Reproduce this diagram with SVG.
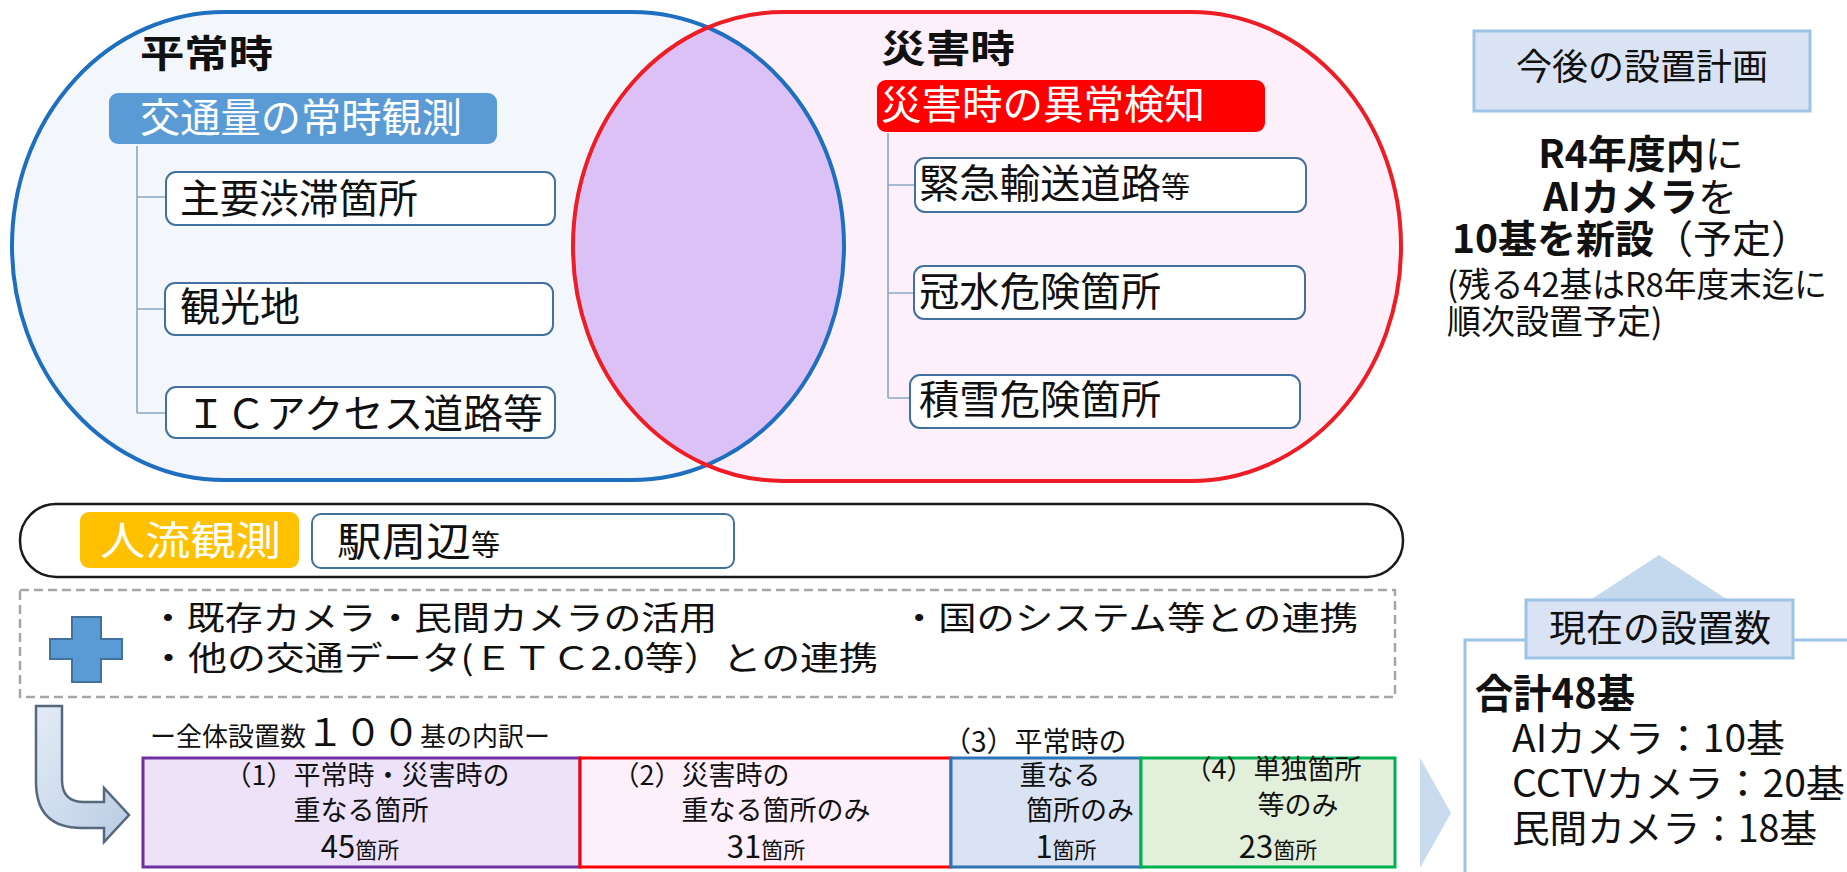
<svg xmlns="http://www.w3.org/2000/svg" width="1847" height="872" viewBox="0 0 1847 872">
<style>
text{font-family:"Noto Sans CJK JP","Noto Sans",sans-serif;fill:#111}
.b{font-weight:700}
.wbox{fill:#fff;stroke:#41719c;stroke-width:2}
.conn{stroke:#8aa6c6;stroke-width:1.6;fill:none}
.t40{font-size:40px}
.w{fill:#fff}
</style>
<defs>
<clipPath id="blueClip"><rect x="12" y="12" width="832" height="468" rx="212" ry="234"/></clipPath>
<linearGradient id="arrowGrad" x1="0" y1="0" x2="1" y2="1">
<stop offset="0" stop-color="#e4ecf6"/><stop offset="1" stop-color="#b9cce4"/>
</linearGradient>
</defs>
<rect width="1847" height="872" fill="#fff"/>

<g id="venn">
<rect x="12" y="12" width="832" height="468" rx="212" ry="234" fill="#f3f6fb"/>
<rect x="573" y="12" width="828" height="469" rx="210" ry="234" fill="#fdf0fb"/>
<rect x="573" y="12" width="828" height="469" rx="210" ry="234" fill="#dcc1f7" clip-path="url(#blueClip)"/>
<rect x="12" y="12" width="832" height="468" rx="212" ry="234" fill="none" stroke="#1f6fc0" stroke-width="4"/>
<rect x="573" y="12" width="828" height="469" rx="210" ry="234" fill="none" stroke="#ee1c24" stroke-width="4"/>
</g>

<g id="connectors">
<path class="conn" d="M137 146 V413 M137 197 H166 M137 309 H165 M137 413 H166"/>
<path class="conn" d="M888 133 V398 M888 185 H915 M888 293 H914 M888 398 H910"/>
</g>

<g id="heiji">
<text class="b" x="140" y="67" font-size="38" textLength="133" lengthAdjust="spacingAndGlyphs">平常時</text>
<rect x="109" y="93" width="388" height="51" rx="9" fill="#5b9bd5"/>
<text class="w" x="140" y="132" font-size="40" textLength="322" lengthAdjust="spacingAndGlyphs">交通量の常時観測</text>
</g>
<g id="h1"><rect class="wbox" x="166" y="172" width="389" height="53" rx="10"/><text class="t40" x="180" y="213" textLength="238" lengthAdjust="spacingAndGlyphs">主要渋滞箇所</text></g>
<g id="h2"><rect class="wbox" x="165" y="283" width="388" height="52" rx="10"/><text class="t40" x="180" y="321" textLength="120" lengthAdjust="spacingAndGlyphs">観光地</text></g>
<g id="h3"><rect class="wbox" x="166" y="387" width="389" height="51" rx="10"/><text class="t40" x="186" y="428" textLength="357" lengthAdjust="spacingAndGlyphs">ＩＣアクセス道路等</text></g>

<g id="saigai">
<text class="b" x="881" y="62" font-size="38" textLength="134" lengthAdjust="spacingAndGlyphs">災害時</text>
<rect x="877" y="80" width="388" height="52" rx="9" fill="#ff0000"/>
<text class="w" x="881" y="119" font-size="40" textLength="324" lengthAdjust="spacingAndGlyphs">災害時の異常検知</text>
</g>
<g id="s1"><rect class="wbox" x="915" y="158" width="391" height="54" rx="10"/><text class="t40" x="919" y="198"><tspan textLength="242" lengthAdjust="spacingAndGlyphs">緊急輸送道路</tspan><tspan font-size="29">等</tspan></text></g>
<g id="s2"><rect class="wbox" x="914" y="266" width="391" height="53" rx="10"/><text class="t40" x="919" y="306" textLength="242" lengthAdjust="spacingAndGlyphs">冠水危険箇所</text></g>
<g id="s3"><rect class="wbox" x="910" y="375" width="390" height="53" rx="10"/><text class="t40" x="919" y="414" textLength="242" lengthAdjust="spacingAndGlyphs">積雪危険箇所</text></g>

<g id="jinryu">
<rect x="20" y="504" width="1383" height="73" rx="36" fill="#fff" stroke="#1a1a1a" stroke-width="2.5"/>
<rect x="80" y="512" width="219" height="56" rx="9" fill="#ffc000"/>
<text class="w" x="100" y="555" font-size="40" textLength="181" lengthAdjust="spacingAndGlyphs">人流観測</text>
<rect class="wbox" x="312" y="514" width="422" height="54" rx="9"/>
<text x="337" y="556" font-size="40"><tspan textLength="134" lengthAdjust="spacingAndGlyphs">駅周辺</tspan><tspan font-size="29">等</tspan></text>
</g>

<g id="plus">
<rect x="20" y="590" width="1375" height="107" fill="#fff" stroke="#a6a6a6" stroke-width="2.5" stroke-dasharray="9 5"/>
<path d="M72 617 H101 V639 H122 V659 H101 V682 H72 V659 H50 V639 H72 Z" fill="#5b9bd5" stroke="#41719c" stroke-width="2"/>
<text x="149" y="630" font-size="33" textLength="568" lengthAdjust="spacingAndGlyphs">・既存カメラ・民間カメラの活用</text>
<text x="900" y="630" font-size="33" textLength="458" lengthAdjust="spacingAndGlyphs">・国のシステム等との連携</text>
<text x="149" y="670" font-size="33" textLength="729" lengthAdjust="spacingAndGlyphs">・他の交通データ(ＥＴＣ2.0等）との連携</text>
</g>

<g id="arrow">
<path d="M36 706 H62 V780 Q62 802 84 802 H104 V788 L129 815 L104 842 V828 H82 Q36 828 36 782 Z" fill="url(#arrowGrad)" stroke="#56687c" stroke-width="2.5"/>
</g>

<g id="breakdown">
<text x="150" y="746" font-size="26">ー全体設置数<tspan font-size="38">１００</tspan>基の内訳ー</text>
<text x="943" y="752" font-size="28">（3）平常時の</text>
<rect x="143" y="758" width="437" height="109" fill="#ede2f8" stroke="#7030a0" stroke-width="3"/>
<rect x="580" y="758" width="371" height="109" fill="#fdf0fb" stroke="#ff0000" stroke-width="3"/>
<rect x="951" y="758" width="190" height="109" fill="#dae3f3" stroke="#2e75b6" stroke-width="3"/>
<rect x="1141" y="758" width="254" height="109" fill="#e2efda" stroke="#00b050" stroke-width="3"/>
<g font-size="27" text-anchor="middle">
<text x="367" y="785">（1）平常時・災害時の</text>
<text x="361" y="820">重なる箇所</text>
<text x="360" y="858"><tspan font-size="31">45</tspan><tspan font-size="22">箇所</tspan></text>
<text x="701" y="785">（2）災害時の</text>
<text x="776" y="820">重なる箇所のみ</text>
<text x="766" y="858"><tspan font-size="31">31</tspan><tspan font-size="22">箇所</tspan></text>
<text x="1060" y="785">重なる</text>
<text x="1080" y="820">箇所のみ</text>
<text x="1066" y="858"><tspan font-size="31">1</tspan><tspan font-size="22">箇所</tspan></text>
<text x="1273" y="779">（4）単独箇所</text>
<text x="1298" y="815">等のみ</text>
<text x="1278" y="858"><tspan font-size="31">23</tspan><tspan font-size="22">箇所</tspan></text>
</g>
</g>

<g id="plan">
<rect x="1474" y="31" width="336" height="80" fill="#dae3f3" stroke="#9dc3e6" stroke-width="3"/>
<text x="1642" y="80" font-size="36" text-anchor="middle">今後の設置計画</text>
<g font-size="39" text-anchor="middle">
<text x="1641" y="168"><tspan class="b">R4年度内</tspan>に</text>
<text x="1640" y="211"><tspan class="b">AIカメラ</tspan>を</text>
<text x="1631" y="253"><tspan class="b">10基を新設</tspan>（予定）</text>
</g>
<text x="1447" y="297" font-size="34" textLength="380" lengthAdjust="spacingAndGlyphs">(残る42基はR8年度末迄に</text>
<text x="1447" y="334" font-size="34">順次設置予定)</text>
</g>

<g id="chevron">
<path d="M1420 758 L1451 813 L1420 868 Z" fill="#c9dcef"/>
</g>

<g id="current">
<path d="M1659 555 L1789 640 L1529 640 Z" fill="#c5d9ee"/>
<path d="M1465 874 V640 H1849" fill="#fff" stroke="#9dc3e6" stroke-width="3"/>
<rect x="1526" y="600" width="267" height="58" fill="#dae3f3" stroke="#9dc3e6" stroke-width="3"/>
<text x="1660" y="642" font-size="37" text-anchor="middle">現在の設置数</text>
<text class="b" x="1475" y="708" font-size="40" textLength="160" lengthAdjust="spacingAndGlyphs">合計48基</text>
<text x="1512" y="752" font-size="38" textLength="273" lengthAdjust="spacingAndGlyphs">AIカメラ：10基</text>
<text x="1512" y="797" font-size="38" textLength="333" lengthAdjust="spacingAndGlyphs">CCTVカメラ：20基</text>
<text x="1512" y="842" font-size="38" textLength="305" lengthAdjust="spacingAndGlyphs">民間カメラ：18基</text>
</g>
</svg>
